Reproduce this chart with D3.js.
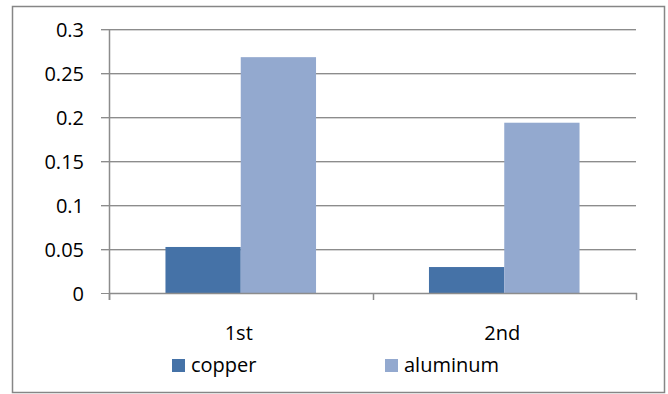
<!DOCTYPE html>
<html>
<head>
<meta charset="utf-8">
<script src="https://cdn.jsdelivr.net/npm/d3@7/dist/d3.min.js"></script>
<style>
  html, body { margin: 0; padding: 0; background: #fff; }
  svg { display: block; }
  text { font-family: "Open Sans", "Noto Sans", sans-serif; fill: #000; }
</style>
</head>
<body>
<svg id="chart" width="668" height="394"></svg>
<script>
// Data
const categories = ["1st", "2nd"];
const seriesNames = ["copper", "aluminum"];
const copper = [0.0523, 0.0295];
const aluminum = [0.268, 0.1935];
const yTicks = [0, 0.05, 0.1, 0.15, 0.2, 0.25, 0.3];
const yTickLabels = ["0", "0.05", "0.1", "0.15", "0.2", "0.25", "0.3"];
const colors = ["#4572a7", "#93a9cf"];

const svg = d3.select("#chart");
const W = 668, H = 394;

// Outer frame
svg.append("rect")
  .attr("x", 12.5).attr("y", 6.5)
  .attr("width", 652).attr("height", 386)
  .attr("fill", "#fff").attr("stroke", "#868686").attr("stroke-width", 1.5);

const plot = { left: 109, right: 636, top: 29, bottom: 293 };

const x = d3.scaleBand().domain(categories)
  .range([plot.left, plot.right]).paddingInner(0).paddingOuter(0);
const y = d3.scaleLinear().domain([0, 0.3]).range([plot.bottom, plot.top]);

// Gridlines with a faint shadow line below each
const grid = svg.append("g");
yTicks.filter(t => t > 0).forEach(t => {
  const yy = Math.round(y(t)) + 0.5;
  grid.append("line").attr("x1", plot.left - 8).attr("x2", plot.right)
    .attr("y1", yy + 1).attr("y2", yy + 1).attr("stroke", "#d4d4d4");
  grid.append("line").attr("x1", plot.left - 8).attr("x2", plot.right)
    .attr("y1", yy).attr("y2", yy).attr("stroke", "#8c8c8c");
});

// Bars: each category band holds two bars with 150% gap width
const bandW = x.bandwidth();
const barW = bandW / 3.5;
const gap = (bandW - 2 * barW) / 2;
const seriesData = [copper, aluminum];
seriesData.forEach((vals, si) => {
  svg.append("g").selectAll("rect")
    .data(vals)
    .join("rect")
    .attr("x", (d, i) => x(categories[i]) + gap + si * barW)
    .attr("y", d => y(d))
    .attr("width", barW)
    .attr("height", d => y(0) - y(d))
    .attr("fill", colors[si]);
});

// Y axis
const yAxis = d3.axisLeft(y).tickValues(yTicks)
  .tickFormat((d, i) => yTickLabels[i]).tickSize(8).tickPadding(17);
const yg = svg.append("g").attr("transform", `translate(${plot.left},0)`).call(yAxis);
yg.select(".domain").remove();
yg.selectAll(".tick line").attr("stroke", "#8c8c8c");
yg.selectAll(".tick text").attr("font-size", 20).attr("dy", "0.35em");
svg.append("line").attr("x1", plot.left + 0.5).attr("x2", plot.left + 0.5)
  .attr("y1", plot.top).attr("y2", plot.bottom + 7).attr("stroke", "#8c8c8c").attr("stroke-width", 1.5);

// X axis
svg.append("line").attr("x1", plot.left).attr("x2", plot.right + 1)
  .attr("y1", plot.bottom + 0.5).attr("y2", plot.bottom + 0.5)
  .attr("stroke", "#8c8c8c").attr("stroke-width", 1.5);
const boundaries = [plot.left, x(categories[1]), plot.right];
svg.append("g").selectAll("line").data(boundaries).join("line")
  .attr("x1", d => Math.round(d) + 0.5).attr("x2", d => Math.round(d) + 0.5)
  .attr("y1", plot.bottom).attr("y2", plot.bottom + 7)
  .attr("stroke", "#8c8c8c").attr("stroke-width", 1.5);

svg.append("g").selectAll("text").data(categories).join("text")
  .attr("x", d => x(d) + bandW / 2 - 2)
  .attr("y", 340)
  .attr("text-anchor", "middle")
  .attr("font-size", 20)
  .text(d => d);

// Legend
const legendX = [172, 385];
const leg = svg.append("g");
seriesNames.forEach((name, i) => {
  leg.append("rect").attr("x", legendX[i]).attr("y", 359)
    .attr("width", 13).attr("height", 13).attr("fill", colors[i]);
  leg.append("text").attr("x", legendX[i] + 19).attr("y", 372)
    .attr("font-size", 20).text(name);
});
</script>
</body>
</html>
